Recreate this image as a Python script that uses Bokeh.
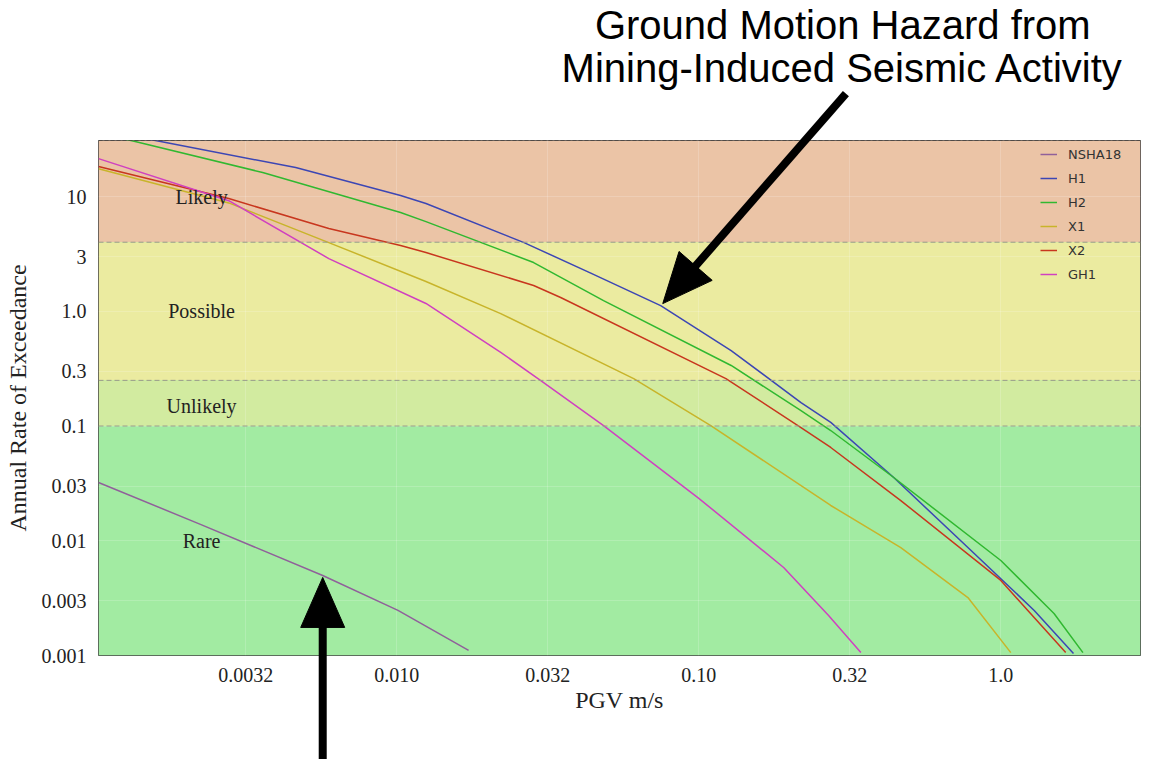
import numpy as np
from bokeh.plotting import figure
from bokeh.models import (Range1d, FixedTicker, BoxAnnotation, Span, Legend, LegendItem)
from bokeh.core.properties import value
from bokeh.embed import file_html
from bokeh.resources import INLINE

# ---------------- data ----------------
NSHA18_x = [0.00103, 0.00224, 0.00569, 0.0101, 0.0173]
NSHA18_y = [0.0322, 0.0139, 0.00498, 0.00247, 0.00111]

H1_x = [0.00103, 0.00159, 0.00463, 0.0103, 0.0125, 0.0264, 0.0439, 0.0748, 0.128, 0.218, 0.2735, 0.442, 0.778, 1.29, 1.74]
H1_y = [37.6, 30.8, 17.9, 10.2, 8.69, 3.97, 2.15, 1.12, 0.455, 0.160, 0.1075, 0.0356, 0.00873, 0.00247, 0.00104]

H2_x = [0.00103, 0.00132, 0.0036, 0.0103, 0.0125, 0.0284, 0.0484, 0.128, 0.218, 0.2735, 0.442, 1.0, 1.50, 1.87]
H2_y = [34.7, 30.8, 16.2, 7.26, 6.05, 2.66, 1.24, 0.337, 0.136, 0.0914, 0.0356, 0.00673, 0.00232, 0.00106]

X1_x = [0.00103, 0.00278, 0.00596, 0.0125, 0.0221, 0.0609, 0.1096, 0.2735, 0.4665, 0.778, 1.079]
X1_y = [17.5, 8.8, 3.97, 1.82, 0.955, 0.259, 0.101, 0.0203, 0.00873, 0.0032, 0.00106]

X2_x = [0.00103, 0.00278, 0.00596, 0.0103, 0.0125, 0.0284, 0.0349, 0.123, 0.218, 0.2735, 0.4665, 1.0, 1.64]
X2_y = [18.3, 9.6, 5.26, 3.74, 3.25, 1.68, 1.32, 0.259, 0.097, 0.065, 0.0224, 0.00451, 0.00106]

GH1_x = [0.00103, 0.00278, 0.00596, 0.0125, 0.0221, 0.030, 0.0484, 0.0993, 0.191, 0.269, 0.344]
GH1_y = [21.4, 9.2, 2.88, 1.17, 0.438, 0.249, 0.101, 0.0238, 0.00585, 0.00223, 0.00106]

series_names = ["NSHA18", "H1", "H2", "X1", "X2", "GH1"]
series_x = [NSHA18_x, H1_x, H2_x, X1_x, X2_x, GH1_x]
series_y = [NSHA18_y, H1_y, H2_y, X1_y, X2_y, GH1_y]
series_colors = ["#90609A", "#3C46B4", "#30B830", "#C8B42A", "#C8361E", "#D040C0"]

band_names = ["Likely", "Possible", "Unlikely", "Rare"]
band_bottom = [4.0, 0.25, 0.1, None]
band_top = [None, 4.0, 0.25, 0.1]
band_colors = ["#EBC4A6", "#EBEBA0", "#D2EBA0", "#A2EBA2"]
band_label_x = [0.00226, 0.00226, 0.00226, 0.00226]
band_label_y = [10.0, 1.0, 0.15, 0.01]

x_ticks = [10 ** -2.5, 0.01, 10 ** -1.5, 0.1, 10 ** -0.5, 1.0]
x_tick_labels = ["0.0032", "0.010", "0.032", "0.10", "0.32", "1.0"]
y_ticks = [0.001, 0.003, 0.01, 0.03, 0.1, 0.3, 1.0, 3.0, 10.0]
y_tick_labels = ["0.001", "0.003", "0.01", "0.03", "0.1", "0.3", "1.0", "3", "10"]

title_lines = ["Ground Motion Hazard from", "Mining-Induced Seismic Activity"]
title_x = [0.2998, 0.2998]
title_y = [310.0, 133.0]

# arrows: (x_start, y_start, x_tip, y_tip) in data units
arrows = [(0.307, 79.0, 0.0760, 1.167),
          (0.00569, 0.000124, 0.00569, 0.00479)]

XMIN, XMAX = 0.00103, 2.9
YMIN, YMAX = 0.001, 30.8
FRAME_W, FRAME_H = 1042, 515

# ---------------- figure ----------------
SERIF = "Liberation Serif"
p = figure(width=1149, height=759, x_axis_type="log", y_axis_type="log",
           x_range=Range1d(XMIN, XMAX), y_range=Range1d(YMIN, YMAX),
           output_backend="svg", toolbar_location=None, title=None,
           min_border_left=98, min_border_right=9, min_border_top=140,
           min_border_bottom=104)
p.border_fill_color = "white"
p.background_fill_color = "#A2EBA2"
p.outline_line_color = "#444444"
p.outline_line_width = 1

for name, b, t, c in zip(band_names, band_bottom, band_top, band_colors):
    p.add_layout(BoxAnnotation(bottom=b, top=t, fill_color=c, fill_alpha=1.0,
                               line_color=None, level="image"))

for loc in [4.0, 0.25, 0.1]:
    p.add_layout(Span(location=loc, dimension="width", line_color="#9a9a8a",
                      line_dash="5 3", line_width=1))
p.add_layout(Span(location=YMAX, dimension="width", line_color="#333333",
                  line_dash="4 2", line_width=1))

for ax, ticks, labels in [(p.xaxis, x_ticks, x_tick_labels), (p.yaxis, y_ticks, y_tick_labels)]:
    ax.ticker = FixedTicker(ticks=ticks)
    ax.major_label_overrides = {t: l for t, l in zip(ticks, labels)}
    ax.major_tick_line_color = None
    ax.minor_tick_line_color = None
    ax.axis_line_color = None
    ax.major_label_text_font = SERIF
    ax.major_label_text_font_size = "20px"
    ax.major_label_text_color = "#222222"
    ax.axis_label_text_font = SERIF
    ax.axis_label_text_font_size = "24px"
    ax.axis_label_text_font_style = "normal"
    ax.axis_label_text_color = "#222222"

p.xaxis.axis_label = "PGV m/s"
p.yaxis.axis_label = "Annual Rate of Exceedance"
p.xaxis.major_label_standoff = 6
p.xaxis.axis_label_standoff = 2
p.yaxis.major_label_standoff = 6
p.yaxis.axis_label_standoff = 8

p.xgrid.ticker = FixedTicker(ticks=x_ticks)
p.ygrid.ticker = FixedTicker(ticks=y_ticks)
p.grid.grid_line_color = "white"
p.grid.grid_line_alpha = 0.18

items = []
for name, xs, ys, c in zip(series_names, series_x, series_y, series_colors):
    r = p.line(xs, ys, line_color=c, line_width=1.5)
    items.append(LegendItem(label=name, renderers=[r]))

p.text(x=band_label_x, y=band_label_y, text=band_names, text_align="center",
       text_baseline="middle", text_font=value(SERIF), text_font_size="20px",
       text_color="#222222")

legend = Legend(items=items, location=(942, 371), glyph_width=17, glyph_height=20,
                label_height=20, spacing=4, padding=0, margin=0, label_standoff=11,
                background_fill_alpha=0, border_line_alpha=0,
                label_text_font="DejaVu Sans", label_text_font_size="13px",
                label_text_color="#333333")
p.add_layout(legend)

# title (outside the frame, drawn on the overlay level)
p.text(x=title_x, y=title_y, text=title_lines, text_align="center",
       text_baseline="alphabetic", text_font=value("Liberation Sans"),
       text_font_size="40px", text_color="black", level="overlay")

# arrows: shaft + triangular head, geometry computed in screen-proportional log space
kx = FRAME_W / (np.log10(XMAX) - np.log10(XMIN))
ky = FRAME_H / (np.log10(YMAX) - np.log10(YMIN))
HEAD_LEN, HEAD_W, SHAFT_W = 50, 44, 8
for xs, ys, xe, ye in arrows:
    X0, Y0 = np.log10(xs) * kx, np.log10(ys) * ky
    X1, Y1 = np.log10(xe) * kx, np.log10(ye) * ky
    d = np.hypot(X1 - X0, Y1 - Y0)
    ux, uy = (X1 - X0) / d, (Y1 - Y0) / d
    bx, by = X1 - ux * HEAD_LEN, Y1 - uy * HEAD_LEN
    sx, sy = X1 - ux * (HEAD_LEN - 3), Y1 - uy * (HEAD_LEN - 3)
    nx, ny = -uy, ux
    TX = np.array([X1, bx + nx * HEAD_W / 2, bx - nx * HEAD_W / 2])
    TY = np.array([Y1, by + ny * HEAD_W / 2, by - ny * HEAD_W / 2])
    p.segment(x0=[xs], y0=[ys], x1=[10 ** (sx / kx)], y1=[10 ** (sy / ky)],
              line_color="black", line_width=SHAFT_W, level="overlay")
    p.patch(10 ** (TX / kx), 10 ** (TY / ky), fill_color="black",
            line_color="black", line_width=1, level="overlay")

open("out.html", "w").write(file_html(p, INLINE))
